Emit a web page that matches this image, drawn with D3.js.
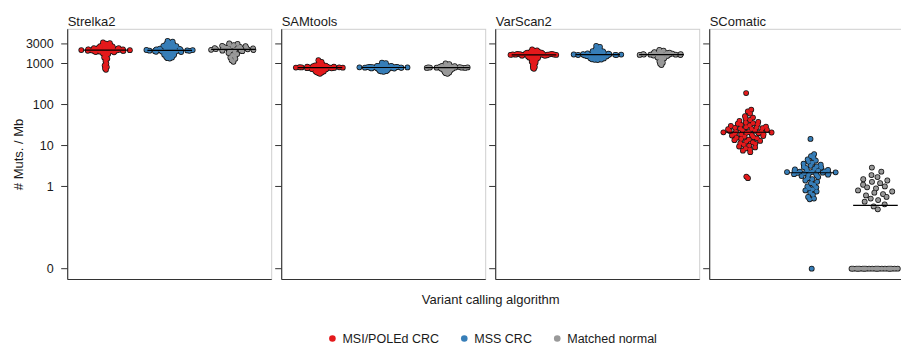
<!DOCTYPE html>
<html>
<head>
<meta charset="utf-8">
<script src="https://cdn.jsdelivr.net/npm/d3@7/dist/d3.min.js"></script>
<style>
  body { margin: 0; background: #fff; }
  svg { display: block; }
  text { font-family: "Liberation Sans", Arial, Helvetica, sans-serif; fill: #1a1a1a; }
</style>
</head>
<body>
<svg id="chart" width="901" height="346"></svg>
<script>
// Mutation burden (# mutations per Mb) per sample, by caller and sample group
const algorithms = ["Strelka2", "SAMtools", "VarScan2", "SComatic"];
const groups = ["MSI/POLEd CRC", "MSS CRC", "Matched normal"];
const groupColors = ["#E41A1C", "#377EB8", "#999999"];
const yTicks = [0, 1, 10, 100, 1000, 3000];

const strelka2MSI = [3250, 3150, 3050, 2950, 2900, 2800, 2750, 2700, 2650, 2600, 2550, 2500, 2480, 2450, 2420, 2400,
  2380, 2350, 2330, 2300, 2280, 2260, 2250, 2230, 2210, 2200, 2190, 2170, 2160, 2150, 2140, 2130, 2120, 2110, 2100,
  2090, 2080, 2070, 2060, 2050, 2040, 2030, 2020, 2000, 1980, 1960, 1940, 1920, 1900, 1870, 1840, 1800, 1750, 1700,
  1600, 1500, 1400, 1300, 1150, 1000, 900, 820, 760, 700];
const strelka2MSS = [3550, 3400, 3250, 3100, 3000, 2900, 2850, 2800, 2700, 2650, 2600, 2550, 2500, 2450, 2400, 2350,
  2300, 2280, 2250, 2220, 2200, 2180, 2160, 2150, 2130, 2120, 2110, 2100, 2090, 2080, 2070, 2060, 2050, 2040, 2030,
  2010, 2000, 1980, 1960, 1940, 1920, 1900, 1870, 1840, 1800, 1760, 1720, 1680, 1640, 1600, 1550, 1500, 1450, 1400,
  1350, 1320];
const strelka2Normal = [3100, 3000, 2900, 2800, 2700, 2650, 2600, 2550, 2500, 2450, 2400, 2380, 2350, 2320, 2300, 2280,
  2250, 2220, 2200, 2180, 2150, 2130, 2100, 2080, 2050, 2000, 1950, 1900, 1800, 1700, 1600, 1500, 1400, 1300, 1200, 1100];

const samtoolsMSI = [1200, 1100, 1050, 1000, 970, 950, 930, 910, 900, 890, 880, 870, 860, 855, 850, 845, 840, 835, 830,
  825, 820, 818, 815, 812, 810, 808, 806, 804, 802, 800, 798, 796, 794, 792, 790, 788, 785, 782, 780, 775, 770, 765,
  760, 755, 750, 745, 740, 735, 730, 720, 710, 700, 690, 680, 670, 660, 650, 640, 630, 620, 610, 600, 580, 560];
const samtoolsMSS = [1050, 1020, 990, 960, 940, 920, 900, 890, 880, 870, 860, 855, 850, 845, 840, 835, 830, 826, 822,
  818, 815, 812, 810, 808, 806, 804, 802, 800, 798, 796, 794, 792, 790, 787, 784, 780, 776, 772, 768, 764, 760, 755,
  750, 745, 740, 730, 720, 710, 700, 690, 680, 670, 660, 650, 640, 630];
const samtoolsNormal = [1000, 960, 930, 900, 880, 860, 850, 840, 830, 820, 815, 810, 806, 802, 800, 798, 795, 792, 790,
  786, 782, 778, 772, 765, 755, 745, 730, 715, 700, 680, 660, 640, 620, 600, 580, 560];

const varscan2MSI = [2200, 2100, 2050, 2000, 1950, 1920, 1900, 1880, 1850, 1830, 1810, 1790, 1770, 1750, 1740, 1730,
  1720, 1710, 1700, 1690, 1680, 1675, 1670, 1665, 1660, 1655, 1650, 1645, 1640, 1635, 1630, 1625, 1620, 1615, 1610,
  1600, 1590, 1580, 1570, 1560, 1550, 1540, 1530, 1510, 1490, 1470, 1450, 1420, 1390, 1360, 1330, 1300, 1260, 1220,
  1180, 1140, 1100, 1050, 1000, 950, 880, 820, 780, 740];
const varscan2MSS = [2700, 2550, 2450, 2350, 2250, 2150, 2100, 2050, 2000, 1960, 1920, 1880, 1850, 1820, 1800, 1780,
  1760, 1740, 1720, 1700, 1690, 1680, 1670, 1660, 1655, 1650, 1645, 1640, 1635, 1630, 1625, 1620, 1610, 1600, 1590,
  1580, 1570, 1560, 1550, 1530, 1510, 1490, 1470, 1450, 1430, 1410, 1390, 1370, 1350, 1330, 1310, 1290, 1270, 1250,
  1230, 1210];
const varscan2Normal = [2150, 2050, 1980, 1920, 1880, 1840, 1800, 1780, 1760, 1740, 1720, 1700, 1690, 1680, 1670, 1660,
  1650, 1645, 1640, 1630, 1620, 1610, 1600, 1580, 1560, 1530, 1500, 1450, 1400, 1350, 1280, 1200, 1120, 1050, 980, 920];

const scomaticMSI = [190, 75, 68, 60, 52, 48, 45, 42, 40, 38, 36, 35, 34, 33, 32, 31, 30, 29, 28, 27.5, 27, 26.5, 26,
  25.5, 25, 24, 23.5, 23, 22.5, 22, 21.5, 21.2, 21, 20.8, 20.5, 20, 19.5, 19, 18.5, 18, 17.5, 17, 16.5, 16, 15.5, 15,
  14.5, 14, 13.5, 13, 12.5, 12, 11.5, 11, 10.5, 10, 9.5, 9, 8.5, 8, 7.5, 6.9, 1.75, 1.6];
const scomaticMSS = [14.5, 6.2, 5.5, 5.0, 4.6, 4.3, 4.0, 3.8, 3.6, 3.4, 3.2, 3.1, 3.0, 2.9, 2.8, 2.7, 2.6, 2.55, 2.5,
  2.45, 2.4, 2.35, 2.3, 2.28, 2.25, 2.22, 2.2, 2.18, 2.15, 2.12, 2.1, 2.05, 2.0, 1.95, 1.9, 1.85, 1.8, 1.7, 1.6, 1.5,
  1.4, 1.3, 1.2, 1.1, 1.0, 0.95, 0.9, 0.85, 0.8, 0.75, 0.7, 0.62, 0.55, 0.5, 0.48, 0];
const scomaticNormal = [0, 0, 0, 0, 0, 0, 0, 0, 0, 0, 0, 0, 0, 0, 0, 0, 0, 0, 0, 0, 0.27, 0.32, 0.36, 0.42, 0.46, 0.5,
  0.55, 0.6, 0.65, 0.7, 0.75, 0.8, 0.9, 0.95, 1.0, 1.1, 1.2, 1.3, 1.4, 1.5, 1.7, 1.9, 2.3, 2.9];

const burdenByCaller = {
  Strelka2: [strelka2MSI, strelka2MSS, strelka2Normal],
  SAMtools: [samtoolsMSI, samtoolsMSS, samtoolsNormal],
  VarScan2: [varscan2MSI, varscan2MSS, varscan2Normal],
  SComatic: [scomaticMSI, scomaticMSS, scomaticNormal]
};

// ---- layout ----
const svg = d3.select("#chart");
const panelTop = 29.3, panelBottom = 279.5;
const panelLeft0 = 67.7, panelW = 204, panelGap = 10;

// pseudo-log axis: symlog with a small constant keeps zero on the axis
const y = d3.scaleSymlog().constant(0.01).domain([0, 1000]).range([268.7, 63.5]);

const xOuter = d3.scaleBand().domain(algorithms)
  .range([panelLeft0, panelLeft0 + algorithms.length * panelW + (algorithms.length - 1) * panelGap])
  .paddingInner(panelGap / (panelW + panelGap)).paddingOuter(0);

const xInner = d3.scalePoint().domain(groups).range([0, panelW]).padding(0.6);
const step = xInner.step();
const jitterWidth = 0.4 * step;      // quasirandom spread
const barHalf = 0.35 * step;         // median bar half-width

// ---- quasirandom (van der Corput + density) offsets ----
function vanDerCorput(n) {
  const out = [];
  for (let i = 1; i <= n; i++) {
    let x = i, f = 0.5, v = 0;
    while (x > 0) { v += f * (x % 2); x = Math.floor(x / 2); f /= 2; }
    out.push(v);
  }
  return out;
}
function q7(sorted, p) {
  const h = (sorted.length - 1) * p, lo = Math.floor(h);
  const hi = Math.min(lo + 1, sorted.length - 1);
  return sorted[lo] + (h - lo) * (sorted[hi] - sorted[lo]);
}
function bwNrd0(t) {
  const sorted = [...t].sort((a, b) => a - b);
  const s = d3.deviation(t);
  let lo = Math.min(s, (q7(sorted, 0.75) - q7(sorted, 0.25)) / 1.34);
  if (!lo) lo = s || Math.abs(sorted[0]) || 1;
  return 0.9 * lo * Math.pow(t.length, -0.2);
}
function quasirandom(values, adjust) {
  const t = values.map(v => Math.log1p(v / 0.01));
  const n = t.length, bw = adjust * bwNrd0(t);
  const dens = x => d3.sum(t, v => Math.exp(-0.5 * ((x - v) / bw) ** 2));
  const lo = d3.min(t) - 3 * bw, hi = d3.max(t) + 3 * bw;
  let maxD = 0;
  for (let i = 0; i < 512; i++) maxD = Math.max(maxD, dens(lo + (hi - lo) * i / 511));
  const order = d3.range(n).sort((a, b) => (t[a] - t[b]) || (a - b));
  const rank = new Array(n);
  order.forEach((idx, r) => { rank[idx] = r; });
  const vdc = vanDerCorput(n);
  return t.map((v, i) => (vdc[rank[i]] - 0.5) * 2 * dens(v) / maxD);
}

const defs = svg.append("defs");

algorithms.forEach((alg, ai) => {
  const x0 = xOuter(alg);
  const panel = svg.append("g").attr("transform", `translate(${x0},0)`);

  defs.append("clipPath").attr("id", `clip-${ai}`)
    .append("rect").attr("x", 0).attr("y", panelTop).attr("width", panelW).attr("height", panelBottom - panelTop);

  // panel frame: light top/right, dark left/bottom
  panel.append("rect").attr("x", 0).attr("y", panelTop).attr("width", panelW).attr("height", panelBottom - panelTop)
    .attr("fill", "#fff").attr("stroke", "#cfcfcf").attr("stroke-width", 1);

  // facet title
  panel.append("text").attr("x", 0).attr("y", 26).attr("font-size", 13).text(alg);

  // y ticks
  panel.selectAll("line.tick").data(yTicks).join("line").attr("class", "tick")
    .attr("x1", -6.5).attr("x2", 0)
    .attr("y1", d => y(d)).attr("y2", d => y(d))
    .attr("stroke", "#333").attr("stroke-width", 1);
  if (ai === 0) {
    panel.selectAll("text.tl").data(yTicks).join("text").attr("class", "tl")
      .attr("x", -14).attr("y", d => y(d)).attr("dy", "0.36em")
      .attr("text-anchor", "end").attr("font-size", 12.5).text(d => d);
  }

  const plot = panel.append("g").attr("clip-path", `url(#clip-${ai})`);
  const series = burdenByCaller[alg];

  series.forEach((vals, gi) => {
    const cx = xInner(groups[gi]);
    const offs = quasirandom(vals, 0.5);
    const pts = vals.map((v, i) => ({ x: cx + offs[i] * jitterWidth, y: y(v) }));
    const g = plot.append("g");
    // outline layer underneath, fill layer on top
    g.selectAll("circle.o").data(pts).join("circle").attr("class", "o")
      .attr("cx", d => d.x).attr("cy", d => d.y).attr("r", 2.9).attr("fill", "#161616");
    g.selectAll("circle.f").data(pts).join("circle").attr("class", "f")
      .attr("cx", d => d.x).attr("cy", d => d.y).attr("r", 2.15).attr("fill", groupColors[gi]);
    // median bar
    const med = d3.median(vals);
    plot.append("line")
      .attr("x1", cx - barHalf).attr("x2", cx + barHalf)
      .attr("y1", y(med)).attr("y2", y(med))
      .attr("stroke", "#000").attr("stroke-width", 1.2);
  });

  // axis lines
  panel.append("line").attr("x1", 0).attr("x2", 0).attr("y1", panelTop).attr("y2", panelBottom)
    .attr("stroke", "#333").attr("stroke-width", 1.1);
  panel.append("line").attr("x1", 0).attr("x2", panelW).attr("y1", panelBottom).attr("y2", panelBottom)
    .attr("stroke", "#333").attr("stroke-width", 1.1);
});

// axis titles
const plotCenterX = (xOuter(algorithms[0]) + xOuter(algorithms[algorithms.length - 1]) + panelW) / 2;
svg.append("text").attr("x", plotCenterX).attr("y", 303.5).attr("text-anchor", "middle")
  .attr("font-size", 13).text("Variant calling algorithm");
svg.append("text").attr("transform", `translate(23,${(panelTop + panelBottom) / 2}) rotate(-90)`)
  .attr("text-anchor", "middle").attr("font-size", 13).text("# Muts. / Mb");

// legend
const legend = svg.append("g");
let lx = 0;
groups.forEach((gname, gi) => {
  const item = legend.append("g").attr("transform", `translate(${lx},0)`);
  item.append("circle").attr("cx", 3.3).attr("cy", 0).attr("r", 3.3).attr("fill", groupColors[gi]);
  const t = item.append("text").attr("x", 13.3).attr("y", 0).attr("dy", "0.35em").attr("font-size", 12.5).text(gname);
  lx += 13.3 + t.node().getComputedTextLength() + 22;
});
const legendW = lx - 22;
legend.attr("transform", `translate(${493 - legendW / 2},338.5)`);
</script>
</body>
</html>
